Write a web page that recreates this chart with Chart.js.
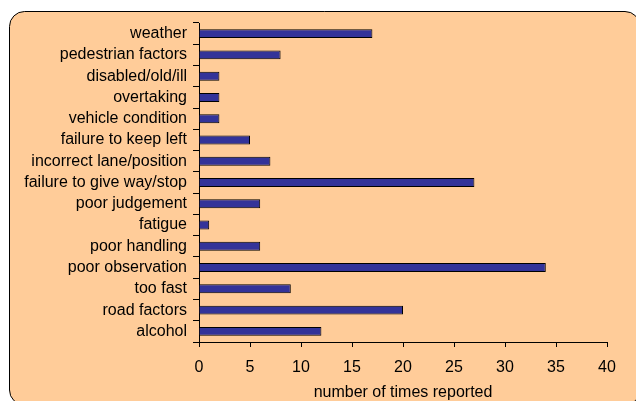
<!DOCTYPE html>
<html>
<head>
<meta charset="utf-8">
<script src="https://cdn.jsdelivr.net/npm/chart.js@4/dist/chart.umd.min.js"></script>
<style>
  html, body { margin: 0; padding: 0; background: #ffffff; }
  #wrap { width: 636px; height: 401px; position: relative; }
</style>
</head>
<body>
<div id="wrap"><canvas id="chart" width="636" height="401"></canvas></div>
<script>
// Contributing factors, listed top to bottom
const categories = [
  'weather', 'pedestrian factors', 'disabled/old/ill', 'overtaking',
  'vehicle condition', 'failure to keep left', 'incorrect lane/position',
  'failure to give way/stop', 'poor judgement', 'fatigue', 'poor handling',
  'poor observation', 'too fast', 'road factors', 'alcohol'
];
const timesReported = [17, 8, 2, 2, 2, 5, 7, 27, 6, 1, 6, 34, 9, 20, 12];
const xTickValues = [0, 5, 10, 15, 20, 25, 30, 35, 40];
const xAxisTitle = 'number of times reported';

const FONT = "'Liberation Sans', Arial, sans-serif";

// Peach panel with a rounded black outline behind the chart
const panelBackground = {
  id: 'panelBackground',
  beforeDraw(chart) {
    const ctx = chart.ctx;
    const x = 9.5, y = 11.5, w = 640 - 9.5, h = 405 - 11.5, r = 15;
    ctx.save();
    ctx.fillStyle = '#ffffff';
    ctx.fillRect(0, 0, chart.width, chart.height);
    ctx.beginPath();
    ctx.moveTo(x + r, y);
    ctx.lineTo(x + w - r, y);
    ctx.arcTo(x + w, y, x + w, y + r, r);
    ctx.lineTo(x + w, y + h - r);
    ctx.arcTo(x + w, y + h, x + w - r, y + h, r);
    ctx.lineTo(x + r, y + h);
    ctx.arcTo(x, y + h, x, y + h - r, r);
    ctx.lineTo(x, y + r);
    ctx.arcTo(x, y, x + r, y, r);
    ctx.closePath();
    ctx.fillStyle = '#FFCC99';
    ctx.fill();
    ctx.lineWidth = 1;
    ctx.strokeStyle = '#000000';
    ctx.stroke();
    ctx.restore();
  }
};

new Chart(document.getElementById('chart'), {
  type: 'bar',
  data: {
    labels: categories,
    datasets: [{
      data: timesReported,
      backgroundColor: '#333399',
      borderColor: '#000000',
      borderWidth: 1,
      barPercentage: 0.42,
      categoryPercentage: 1.0
    }]
  },
  options: {
    indexAxis: 'y',
    responsive: false,
    animation: false,
    devicePixelRatio: 1,
    layout: { padding: { left: 0, top: 23, right: 29, bottom: 0 } },
    plugins: {
      legend: { display: false },
      tooltip: { enabled: false }
    },
    scales: {
      x: {
        min: 0,
        max: 40,
        afterFit(scale) { scale.height = 59; },
        afterBuildTicks(scale) { scale.ticks = xTickValues.map(v => ({ value: v })); },
        grid: {
          drawOnChartArea: false,
          drawTicks: true,
          tickLength: 5,
          color: '#000000'
        },
        border: { display: true, color: '#000000', width: 1 },
        ticks: {
          color: '#000000',
          padding: 11,
          font: { family: FONT, size: 16 }
        },
        title: {
          display: true,
          text: xAxisTitle,
          color: '#000000',
          padding: { top: 0, bottom: 0 },
          font: { family: FONT, size: 16, lineHeight: 1.0 }
        }
      },
      y: {
        afterFit(scale) { scale.width = 199; },
        grid: {
          drawOnChartArea: false,
          drawTicks: true,
          tickLength: 6,
          color: '#000000'
        },
        border: { display: true, color: '#000000', width: 1 },
        ticks: {
          color: '#000000',
          padding: 6,
          autoSkip: false,
          font: { family: FONT, size: 16 }
        }
      }
    }
  },
  plugins: [panelBackground]
});
</script>
</body>
</html>
